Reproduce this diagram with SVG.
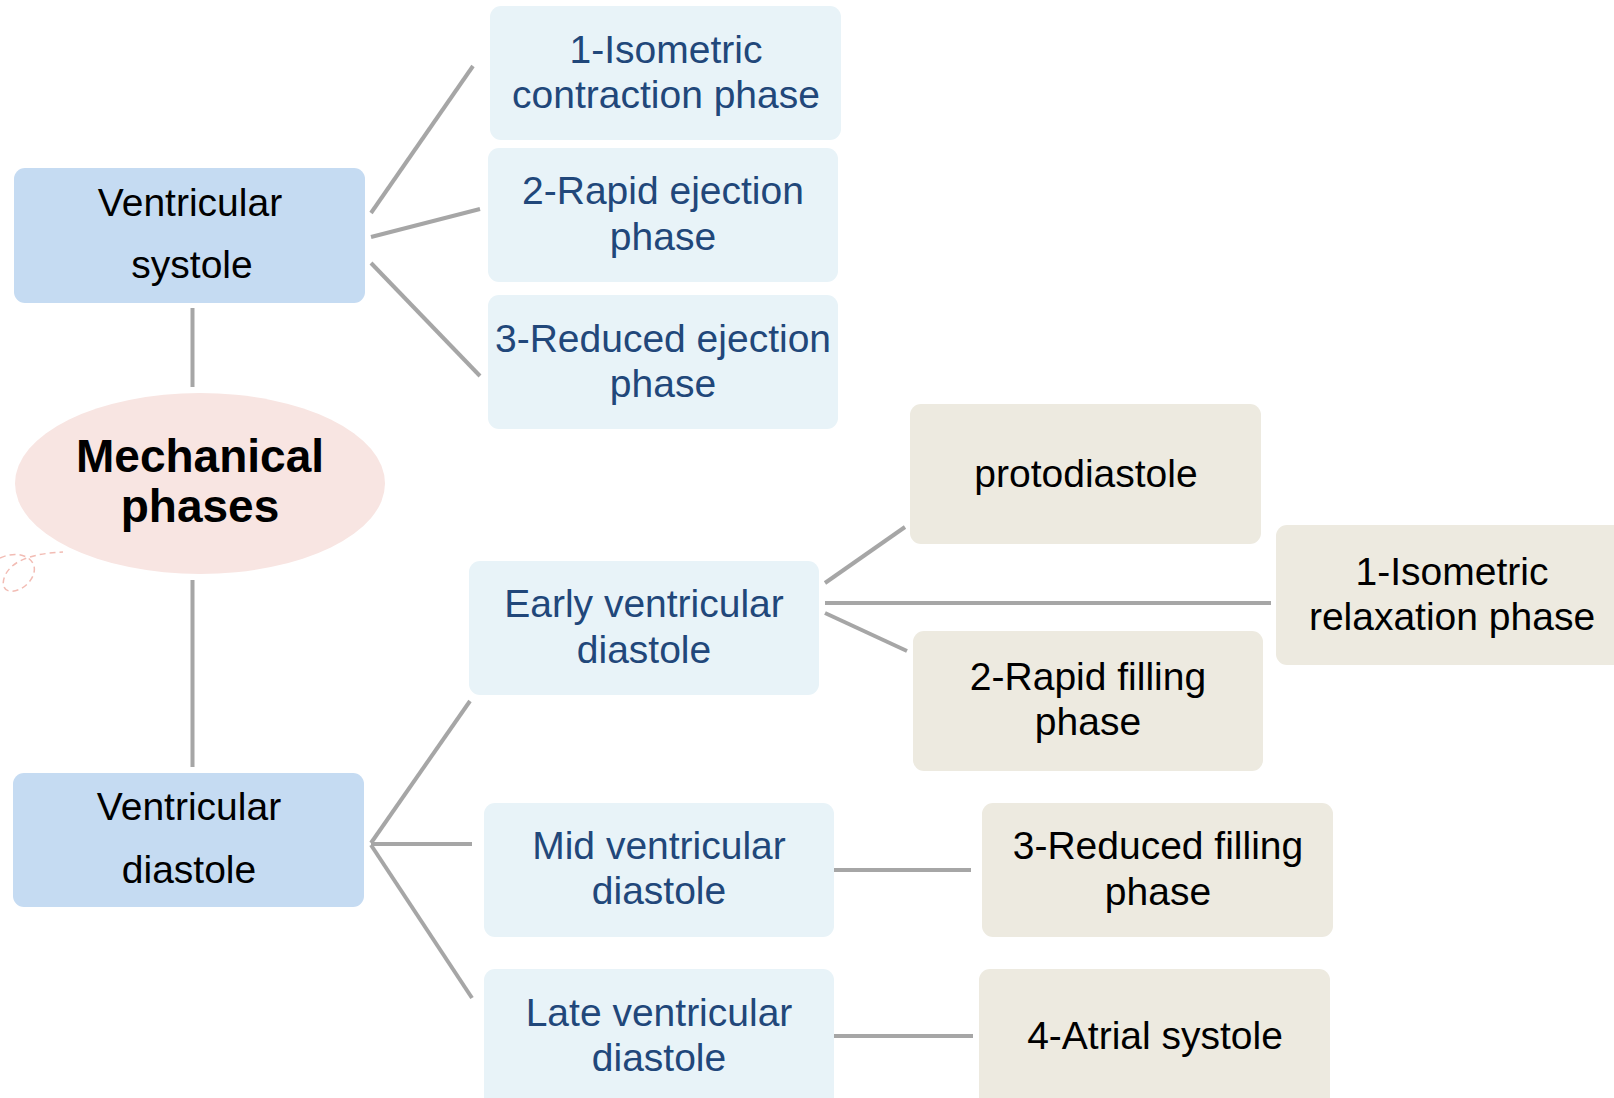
<svg xmlns="http://www.w3.org/2000/svg" width="1614" height="1098" viewBox="0 0 1614 1098">
<style>
.main{fill:#c5dbf2}
.sub{fill:#e8f3f8}
.leaf{fill:#edeae0}
.t{font-family:"Liberation Sans",Arial,sans-serif;font-size:39px;text-anchor:middle}
.blue{fill:#21477a}
.blk{fill:#000}
.con line{stroke:#a6a6a6;stroke-width:4;stroke-linecap:butt}
</style>
<rect width="1614" height="1098" fill="#fff"/>
<g id="connectors" class="con">
<line x1="192.5" y1="308" x2="192.5" y2="387"/>
<line x1="192.5" y1="580" x2="192.5" y2="767"/>
<line x1="371" y1="213" x2="473" y2="66"/>
<line x1="371" y1="237" x2="480" y2="209"/>
<line x1="371" y1="263" x2="480" y2="376"/>
<line x1="371" y1="843" x2="470" y2="701"/>
<line x1="371" y1="844" x2="472" y2="844"/>
<line x1="371" y1="845" x2="472" y2="998"/>
<line x1="825" y1="583" x2="905" y2="527"/>
<line x1="825" y1="603" x2="1271" y2="603"/>
<line x1="825" y1="613" x2="907" y2="651"/>
<line x1="828" y1="870" x2="971" y2="870"/>
<line x1="834" y1="1036" x2="973" y2="1036"/>
</g>
<path d="M0,558 C15,551 31,555 34,566 C37,579 21,593 9,591 C-1,589 2,571 18,562 C31,555 46,553 63,552" fill="none" stroke="#f2bcb4" stroke-width="1.5" stroke-dasharray="6,4"/>
<g id="mechanical">
<ellipse cx="200" cy="483.5" rx="185" ry="90.5" fill="#f8e5e2"/>
<text class="t blk" x="200" y="472" style="font-weight:bold;font-size:46px">Mechanical</text>
<text class="t blk" x="200" y="522" style="font-weight:bold;font-size:46px">phases</text>
</g>
<g id="vsystole">
<rect class="main" x="14" y="168" width="351" height="135" rx="11"/>
<text class="t blk" x="190" y="216">Ventricular</text>
<text class="t blk" x="192" y="278">systole</text>
</g>
<g id="vdiastole">
<rect class="main" x="13" y="773" width="351" height="134" rx="11"/>
<text class="t blk" x="189" y="820">Ventricular</text>
<text class="t blk" x="189" y="883">diastole</text>
</g>
<g id="iso-contraction">
<rect class="sub" x="490" y="6" width="351" height="134" rx="11"/>
<text class="t blue" x="666" y="63">1-Isometric</text>
<text class="t blue" x="666" y="108">contraction phase</text>
</g>
<g id="rapid-ejection">
<rect class="sub" x="488" y="148" width="350" height="134" rx="11"/>
<text class="t blue" x="663" y="204">2-Rapid ejection</text>
<text class="t blue" x="663" y="250">phase</text>
</g>
<g id="reduced-ejection">
<rect class="sub" x="488" y="295" width="350" height="134" rx="11"/>
<text class="t blue" x="663" y="352">3-Reduced ejection</text>
<text class="t blue" x="663" y="397">phase</text>
</g>
<g id="early">
<rect class="sub" x="469" y="561" width="350" height="134" rx="11"/>
<text class="t blue" x="644" y="617">Early ventricular</text>
<text class="t blue" x="644" y="663">diastole</text>
</g>
<g id="mid">
<rect class="sub" x="484" y="803" width="350" height="134" rx="11"/>
<text class="t blue" x="659" y="859">Mid ventricular</text>
<text class="t blue" x="659" y="904">diastole</text>
</g>
<g id="late">
<rect class="sub" x="484" y="969" width="350" height="140" rx="11"/>
<text class="t blue" x="659" y="1026">Late ventricular</text>
<text class="t blue" x="659" y="1071">diastole</text>
</g>
<g id="protodiastole">
<rect class="leaf" x="910" y="404" width="351" height="140" rx="11"/>
<text class="t blk" x="1086" y="487">protodiastole</text>
</g>
<g id="iso-relaxation">
<rect class="leaf" x="1276" y="525" width="350" height="140" rx="11"/>
<text class="t blk" x="1452" y="585">1-Isometric</text>
<text class="t blk" x="1452" y="630">relaxation phase</text>
</g>
<g id="rapid-filling">
<rect class="leaf" x="913" y="631" width="350" height="140" rx="11"/>
<text class="t blk" x="1088" y="690">2-Rapid filling</text>
<text class="t blk" x="1088" y="735">phase</text>
</g>
<g id="reduced-filling">
<rect class="leaf" x="982" y="803" width="351" height="134" rx="11"/>
<text class="t blk" x="1158" y="859">3-Reduced filling</text>
<text class="t blk" x="1158" y="905">phase</text>
</g>
<g id="atrial-systole">
<rect class="leaf" x="979" y="969" width="351" height="140" rx="11"/>
<text class="t blk" x="1155" y="1049">4-Atrial systole</text>
</g>
</svg>
